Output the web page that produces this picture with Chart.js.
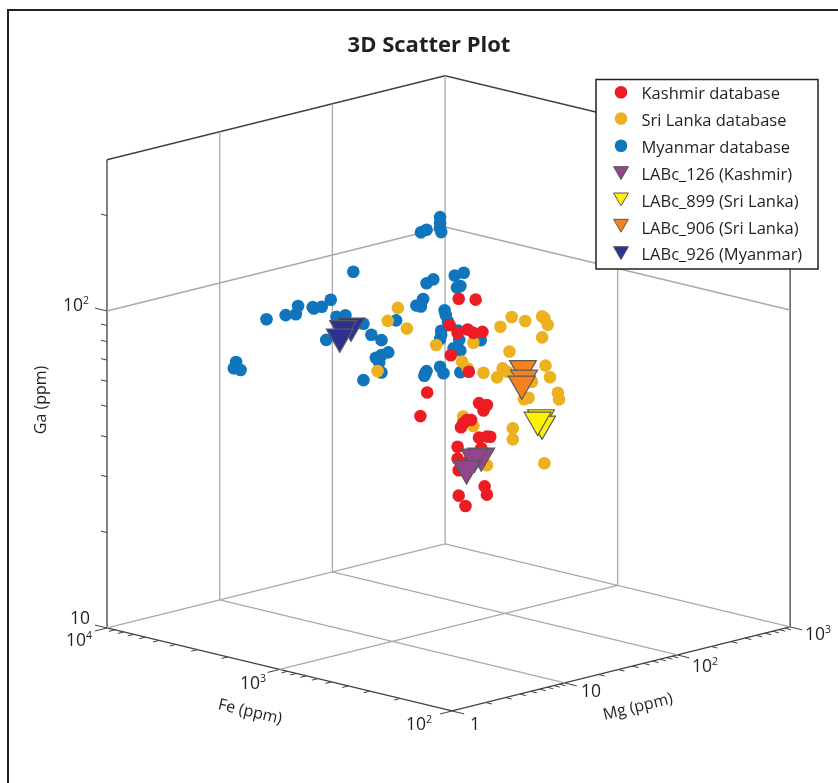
<!DOCTYPE html>
<html>
<head>
<meta charset="utf-8">
<title>3D Scatter Plot</title>
<script src="https://cdn.jsdelivr.net/npm/chart.js@4/dist/chart.umd.js"></script>
<style>
  html, body { margin: 0; padding: 0; background: #fff; }
  canvas { display: block; }
</style>
</head>
<body>
<canvas id="chart" width="838" height="783"></canvas>
<script>
// All values are log10(ppm). A 2D view hides depth, so Fe is one assumed value per
// group and Mg / Ga were read off the picture under that assumption.
const seriesNames = ['Kashmir database', 'Sri Lanka database', 'Myanmar database',
    'LABc_126 (Kashmir)', 'LABc_899 (Sri Lanka)', 'LABc_906 (Sri Lanka)', 'LABc_926 (Myanmar)'];

const kashmirFe = 3;
const kashmirMg = [1.59, 1.74, 1.51, 1.67, 1.72, 1.80, 1.58, 1.52, 1.68, 1.31, 1.25, 1.77, 1.84, 1.81, 1.70,
    1.66, 1.63, 1.61, 1.77, 1.84, 1.87, 1.58, 1.79, 1.58, 1.67, 1.59, 1.82, 1.84, 1.59, 1.65];
const kashmirGa = [2.029, 2.013, 1.953, 1.925, 1.910, 1.906, 1.922, 1.857, 1.791, 1.758, 1.689, 1.684, 1.672, 1.657, 1.637,
    1.640, 1.633, 1.622, 1.575, 1.572, 1.569, 1.563, 1.540, 1.525, 1.508, 1.488, 1.417, 1.389, 1.408, 1.370];

const sriLankaFe = 3;
const sriLankaMg = [1.05, 0.96, 1.13, 0.87, 1.39, 1.96, 2.06, 2.18, 2.33, 2.35, 2.38, 2.33, 1.72, 2.04, 1.62, 1.67, 1.81,
    1.98, 2.36, 1.93, 2.02, 2.40, 2.24, 2.47, 2.48, 2.17, 2.21, 1.63, 1.72, 2.07, 2.07, 1.84, 2.35];
const sriLankaGa = [2.048, 2.015, 1.976, 1.865, 1.901, 1.908, 1.930, 1.907, 1.908, 1.901, 1.877, 1.842, 1.879, 1.823, 1.828, 1.802, 1.776,
    1.775, 1.750, 1.751, 1.761, 1.710, 1.710, 1.655, 1.633, 1.661, 1.662, 1.654, 1.616, 1.578, 1.543, 1.482, 1.443];

const myanmarFe = 3.5;
const myanmarMg = [1.42, 0.65, 0.82, 0.91, 0.93, 1.07, 1.06, 1.14, 1.22, 1.27, 1.35, 1.51, 1.18, 1.58, 1.67, 1.80, 0.38, 0.36, 0.42,
    1.73, 1.67, 1.62, 1.65, 1.67, 1.51, 2.19, 2.19, 2.19, 2.20, 2.07, 2.02, 2.40, 2.32, 2.13, 2.07, 2.37, 2.34, 2.04,
    1.98, 2.02, 2.23, 2.24, 2.26, 2.20, 2.20, 2.19, 2.35, 2.36, 2.55, 2.31, 2.37, 2.19, 2.07, 2.06, 2.05, 2.22, 2.37];
const myanmarGa = [2.064, 1.982, 1.980, 1.975, 1.999, 1.979, 1.984, 1.978, 1.993, 1.935, 1.933, 1.892, 1.870, 1.851, 1.826, 1.877, 1.871, 1.853, 1.842,
    1.782, 1.779, 1.775, 1.757, 1.724, 1.714, 2.168, 2.149, 2.133, 2.120, 2.139, 2.135, 1.974, 1.972, 1.977, 1.970, 1.935, 1.933, 1.923,
    1.908, 1.901, 1.871, 1.855, 1.832, 1.809, 1.796, 1.783, 1.796, 1.766, 1.748, 1.744, 1.731, 1.696, 1.693, 1.687, 1.680, 1.673, 1.663];

const lab126Mg = [1.79, 1.73, 1.66];
const lab126Ga = [1.516, 1.518, 1.487];
const lab899Mg = [2.32, 2.33, 2.29];
const lab899Ga = [1.590, 1.569, 1.585];
const lab906Mg = [2.16, 2.17, 2.15];
const lab906Ga = [1.759, 1.728, 1.711];
const lab926Mg = [1.40, 1.33, 1.30];
const lab926Ga = [1.895, 1.893, 1.869];

// axis limits and ticks, log10(ppm)
const feMax = 4, feMin = 2;
const mgMin = 0, mgMax = 3;
const gaMin = 1, gaMax = Math.log10(300);
const feMinorTicks = [200, 300, 400, 500, 600, 700, 800, 900, 2000, 3000, 4000, 5000, 6000, 7000, 8000, 9000];
const mgMinorTicks = [2, 3, 4, 5, 6, 7, 8, 9, 20, 30, 40, 50, 60, 70, 80, 90, 200, 300, 400, 500, 600, 700, 800, 900];
const gaMinorTicks = [20, 30, 40, 50, 60, 70, 80, 90, 200];

// view: one Fe decade moves 1.53 Mg decades across; the view y is in Ga decades
const FE_ACROSS = 172.5 / 112.7;
const MG_RISE = 28 / 317;
const FE_DROP = 41.5 / 317;

function project(fe, mg, ga) {
    return {
        x: mg + (feMax - fe) * FE_ACROSS,
        y: ga - gaMin + mg * MG_RISE - (feMax - fe) * FE_DROP
    };
}

function points(fe, mgs, gas) {
    return mgs.map((mg, i) => project(fe, mg, gas[i]));
}

// joins [fe, mg, ga] pairs into one dataset, NaN breaks the line between segments
function segments(list) {
    const out = [];
    list.forEach(([a, b]) => {
        out.push(project(...a), project(...b), { x: NaN, y: NaN });
    });
    return out;
}

const gridSegments = [
    [[feMax, 1, gaMin], [feMax, 1, gaMax]],
    [[feMax, 2, gaMin], [feMax, 2, gaMax]],
    [[feMax, mgMax, gaMin], [feMax, mgMax, gaMax]],
    [[3, mgMax, gaMin], [3, mgMax, gaMax]],
    [[feMax, mgMin, 2], [feMax, mgMax, 2]],
    [[feMax, mgMax, 2], [feMin, mgMax, 2]],
    [[feMax, mgMin, gaMin], [feMax, mgMax, gaMin]],
    [[feMax, mgMax, gaMin], [feMin, mgMax, gaMin]],
    [[3, mgMin, gaMin], [3, mgMax, gaMin]],
    [[feMax, 1, gaMin], [feMin, 1, gaMin]],
    [[feMax, 2, gaMin], [feMin, 2, gaMin]]
];

const frameSegments = [
    [[feMax, mgMin, gaMin], [feMax, mgMin, gaMax]],
    [[feMax, mgMin, gaMax], [feMax, mgMax, gaMax]],
    [[feMax, mgMax, gaMax], [feMin, mgMax, gaMax]],
    [[feMin, mgMax, gaMin], [feMin, mgMax, gaMax]],
    [[feMax, mgMin, gaMin], [feMin, mgMin, gaMin]],
    [[feMin, mgMin, gaMin], [feMin, mgMax, gaMin]]
];

const tickSegments = [];
[4, 3, 2].forEach(fe => tickSegments.push([[fe, mgMin, gaMin], [fe, mgMin - 0.106, gaMin]]));
feMinorTicks.forEach(v => tickSegments.push([[Math.log10(v), mgMin, gaMin], [Math.log10(v), mgMin - 0.053, gaMin]]));
[0, 1, 2, 3].forEach(mg => tickSegments.push([[feMin, mg, gaMin], [feMin - 0.07, mg, gaMin]]));
mgMinorTicks.forEach(v => tickSegments.push([[feMin, Math.log10(v), gaMin], [feMin - 0.035, Math.log10(v), gaMin]]));
[1, 2].forEach(ga => tickSegments.push([[feMax, mgMin, ga], [feMax + 0.07, mgMin, ga]]));
gaMinorTicks.forEach(v => tickSegments.push([[feMax, mgMin, Math.log10(v)], [feMax + 0.035, mgMin, Math.log10(v)]]));

const RED = '#ed1c24', AMBER = '#edb120', BLUE = '#0f75bc';
const PURPLE = '#92458c', LEMON = '#fff200', ORANGE = '#f58220', NAVY = '#2e3192';
const EDGE = '#58595b';
const FONT = '"Open Sans", sans-serif';

function lineSet(list, color, width) {
    return { data: segments(list), showLine: true, pointRadius: 0, borderColor: color, borderWidth: width, spanGaps: false, order: 20 };
}

function dotSet(label, data, color, order) {
    return { label, data, pointStyle: 'circle', pointRadius: 6.3, pointHoverRadius: 6.3, pointBackgroundColor: color, pointBorderWidth: 0, backgroundColor: color, order };
}

function labSet(label, data, color, order) {
    return { label, data, pointStyle: 'triangle', rotation: 180, pointRadius: 15.5, pointHoverRadius: 15.5, pointBackgroundColor: color, pointBorderColor: EDGE, pointBorderWidth: 1.2, backgroundColor: color, order };
}

function superscript(ctx, base, sup, x, y, size) {
    ctx.textBaseline = 'alphabetic';
    ctx.textAlign = 'left';
    ctx.font = size + 'px ' + FONT;
    ctx.fillText(base, x, y);
    if (sup) {
        const w = ctx.measureText(base).width;
        ctx.font = (size * 0.6) + 'px ' + FONT;
        ctx.fillText(sup, x + w, y - size * 0.38);
    }
}

const axisText = {
    id: 'axisText',
    afterDraw(chart) {
        const ctx = chart.ctx;
        ctx.save();
        ctx.fillStyle = '#231f20';
        [['10', '2', 63, 311], ['10', '', 70, 624], ['10', '4', 66, 646], ['10', '3', 240, 689], ['10', '2', 406, 730],
         ['1', '', 470, 730], ['10', '', 581, 697], ['10', '2', 692, 672], ['10', '3', 805, 640]].forEach(([b, s, x, y]) => {
            superscript(ctx, b, s, x, y, 17.5);
        });

        ctx.font = '16px ' + FONT;
        ctx.textAlign = 'center';
        ctx.textBaseline = 'middle';
        [['Ga (ppm)', 41, 400, -Math.PI / 2], ['Fe (ppm)', 250, 712, 0.23], ['Mg (ppm)', 638, 707, -0.24]].forEach(([t, x, y, r]) => {
            ctx.save();
            ctx.translate(x, y);
            ctx.rotate(r);
            ctx.fillText(t, 0, 0);
            ctx.restore();
        });

        // panel border runs off the right and bottom edges
        ctx.strokeStyle = '#231f20';
        ctx.lineWidth = 2;
        ctx.strokeRect(8, 10, 840, 790);
        ctx.restore();
    }
};

const boxLegend = {
    id: 'boxLegend',
    afterDraw(chart) {
        const ctx = chart.ctx;
        const rowY = [94, 121, 148, 175, 202, 229, 255];
        const markY = [92.3, 118.5, 145.7, 171, 197.3, 223.6, 251];
        const colors = [RED, AMBER, BLUE, PURPLE, LEMON, ORANGE, NAVY];
        ctx.save();
        ctx.fillStyle = '#fff';
        ctx.strokeStyle = '#231f20';
        ctx.lineWidth = 1.5;
        ctx.fillRect(596, 79.5, 222, 189.5);
        ctx.strokeRect(596, 79.5, 222, 189.5);
        ctx.font = '16.5px ' + FONT;
        ctx.textAlign = 'left';
        ctx.textBaseline = 'middle';
        seriesNames.forEach((name, i) => {
            const tri = i > 2;
            ctx.fillStyle = colors[i];
            ctx.strokeStyle = EDGE;
            ctx.lineWidth = tri ? 1 : 0;
            Chart.helpers.drawPoint(ctx, { pointStyle: tri ? 'triangle' : 'circle', rotation: tri ? 180 : 0, radius: tri ? 8.6 : 6.3, borderWidth: tri ? 1 : 0 }, 621, markY[i]);
            ctx.fillStyle = '#231f20';
            ctx.fillText(name, 641.5, rowY[i]);
        });
        ctx.restore();
    }
};

new Chart(document.getElementById('chart'), {
    type: 'scatter',
    data: {
        datasets: [
            lineSet(gridSegments, '#a7a9ac', 1.3),
            lineSet(frameSegments, '#414042', 1.3),
            lineSet(tickSegments, '#414042', 1),
            dotSet(seriesNames[2], points(myanmarFe, myanmarMg, myanmarGa), BLUE, 12),
            dotSet(seriesNames[1], points(sriLankaFe, sriLankaMg, sriLankaGa), AMBER, 11),
            dotSet(seriesNames[0], points(kashmirFe, kashmirMg, kashmirGa), RED, 10),
            labSet(seriesNames[3], points(kashmirFe, lab126Mg, lab126Ga), PURPLE, 4),
            labSet(seriesNames[4], points(sriLankaFe, lab899Mg, lab899Ga), LEMON, 3),
            labSet(seriesNames[5], points(sriLankaFe, lab906Mg, lab906Ga), ORANGE, 2),
            labSet(seriesNames[6], points(myanmarFe, lab926Mg, lab926Ga), NAVY, 1)
        ]
    },
    options: {
        responsive: false,
        animation: false,
        devicePixelRatio: 1,
        layout: { autoPadding: false, padding: { left: 20, right: 0, top: 0, bottom: 0 } },
        clip: false,
        plugins: {
            legend: { display: false },
            tooltip: { enabled: false },
            title: {
                display: true,
                text: '3D Scatter Plot',
                color: '#231f20',
                font: { family: FONT, size: 22, weight: 'bold', lineHeight: 1.2 },
                padding: { top: 33, bottom: 2.6 }
            }
        },
        // limits line the view units up with the canvas, title block takes the top 62 px
        scales: {
            x: { display: false, min: -0.772, max: 6.486 },
            y: { display: false, min: -0.489, max: 1.7855 }
        }
    },
    plugins: [axisText, boxLegend]
});
</script>
</body>
</html>
